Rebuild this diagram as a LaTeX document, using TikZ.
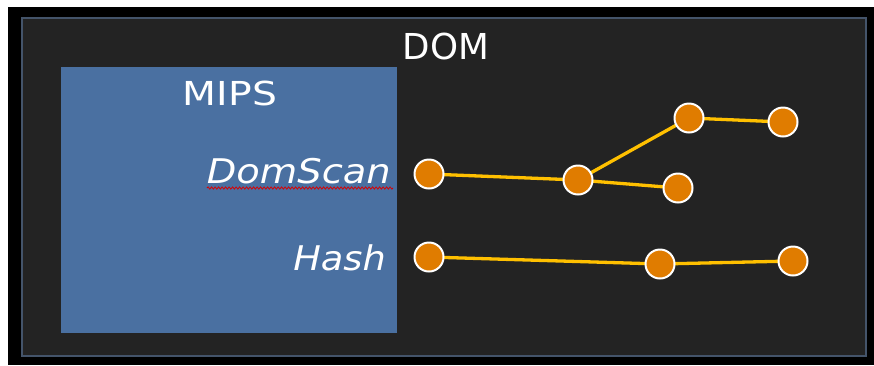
\documentclass[tikz,border=0pt]{standalone}
\usepackage{fontspec}
\setmainfont{DejaVu Sans}
\usetikzlibrary{decorations.pathmorphing}
\definecolor{bgdark}{HTML}{232323}
\definecolor{frameblue}{HTML}{44546A}
\definecolor{mipsblue}{HTML}{4A70A1}
\definecolor{dotorange}{HTML}{E07C00}
\definecolor{linegold}{HTML}{FFC000}
\tikzset{
  dot/.style={circle, fill=dotorange, draw=white, line width=2pt, minimum size=29pt, inner sep=0pt},
  link/.style={linegold, line width=3.3pt},
  lbl/.style={text=white, inner sep=0pt},
}
\begin{document}
\begin{tikzpicture}[x=1pt,y=-1pt]
\useasboundingbox (0,0) rectangle (874,365);
\fill[white] (0,0) rectangle (874,365);
\fill[black] (8,7) rectangle (874,365);
\filldraw[fill=bgdark, draw=frameblue, line width=1.6pt] (22,18) rectangle (866,356);
\fill[mipsblue] (61,67) rectangle (397,333);
\node[lbl, anchor=base, font=\fontsize{35.7}{40}\selectfont] (dom) at (446,59) {DOM};
\node[lbl, anchor=base, font=\fontsize{33}{38}\selectfont] (mips) at (230,105) {\scalebox{1.19}[1]{MIPS}};
\node[lbl, anchor=base east, font=\fontsize{34}{38}\selectfont\itshape] (domscan) at (391,183) {\scalebox{1.13}[1]{DomScan}};
\node[lbl, anchor=base east, font=\fontsize{34}{38}\selectfont\itshape] (hash) at (386,270) {\scalebox{1.08}[1]{Hash}};
\draw[red!85!black, line width=0.8pt, decorate, decoration={snake, amplitude=1.1pt, segment length=3.5pt}] (207,188) -- (393,188);
\coordinate (pa) at (429,174);
\coordinate (pb) at (578,180);
\coordinate (pc) at (689,118);
\coordinate (pd) at (783,122);
\coordinate (pe) at (678,188);
\coordinate (pf) at (429,257);
\coordinate (pg) at (660,264);
\coordinate (ph) at (793,261);
\draw[link] (pa) -- (pb) -- (pc) -- (pd);
\draw[link] (pb) -- (pe);
\draw[link] (pf) -- (pg) -- (ph);
\foreach \p in {a,b,c,d,e,f,g,h} \node[dot] (n\p) at (p\p) {};
\end{tikzpicture}
\end{document}
